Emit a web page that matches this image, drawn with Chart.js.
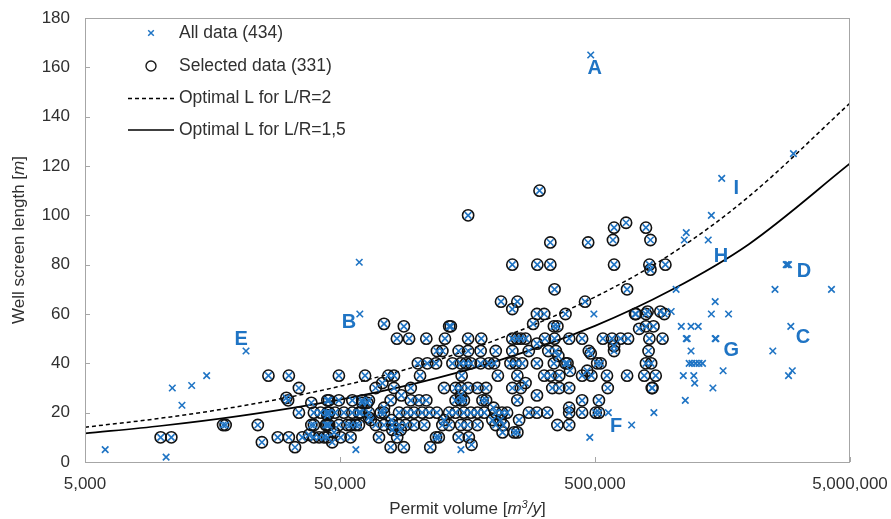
<!DOCTYPE html>
<html>
<head>
<meta charset="utf-8">
<script src="https://cdn.jsdelivr.net/npm/chart.js@4/dist/chart.umd.min.js"></script>
<style>
  html, body { margin: 0; padding: 0; background: #ffffff; }
  #wrap { width: 891px; height: 519px; }
</style>
</head>
<body>
<div id="wrap"><canvas id="c" width="891" height="519"></canvas></div>
<script>
// ---------------- DATA ----------------
// Axis ticks
const xTicks = [5000, 50000, 500000, 5000000];
const yTicks = [0, 20, 40, 60, 80, 100, 120, 140, 160, 180];

// Selected data (331): [permit volume m3/y, well screen length m]
const selectedPoints = [
  [33300,6],[79000,6],[89000,6],[113000,6],[164000,7],[24700,8],[46600,8],
  [9900,10],[10900,10],[28500,10],[31500,10],[35600,10],[39500,10],[41400,10],[43300,10],[44600,10],
  [50300,10],[55000,10],[71100,10],[83800,10],[119000,10],[122000,10],[146000,10],[160000,10],
  [37800,11],[47400,12],[217000,12],[241000,12],[248000,12],[80200,13],[86500,13],
  [17400,15],[17800,15],[23800,15],[38600,15],[39500,15],[44000,15],[44600,15],[45300,15],[49500,15],
  [53400,15],[55000,15],[57600,15],[59300,15],[69000,15],[74400,15],[80200,15],[85200,15],[90500,15],
  [97600,15],[107000,15],[126000,15],[134000,15],[149000,15],[158000,15],[173000,15],[204000,15],
  [219000,15],[356000,15],[396000,15],
  [66000,17],[79700,17],[128000,17],[198000,17],[213000,17],[252000,17],[64900,18],[44600,19],
  [34500,20],[39500,20],[42000,20],[44600,20],[45300,20],[47800,20],[51800,20],[55900,20],[59300,20],
  [60300,20],[64900,20],[72200,20],[74400,20],[85200,20],[91800,20],[97600,20],[105000,20],[112000,20],
  [120000,20],[134000,20],[142000,20],[153000,20],[163000,20],[173000,20],[184000,20],[204000,20],
  [216000,20],[226000,20],[275000,20],[296000,20],[325000,20],[396000,20],[445000,20],[503000,20],[518000,20],
  [74400,22],[200000,22],[396000,22],[38600,24],[61100,24],[64000,24],
  [31300,25],[44600,25],[45300,25],[49500,25],[55900,25],[61100,25],[64900,25],[79000,25],[94700,25],
  [102000,25],[109000,25],[142000,25],[149000,25],[153000,25],[181000,25],[187000,25],[248000,25],
  [445000,25],[518000,25],
  [30800,26],[87000,27],[149000,27],[296000,27],
  [34500,30],[69000,30],[81400,30],[94700,30],[128000,30],[142000,30],[149000,30],[159000,30],[173000,30],
  [187000,30],[237000,30],[256000,30],[340000,30],[362000,30],[396000,30],[561000,30],[835000,30],[840000,30],
  [73300,32],[267000,32],
  [26200,35],[31500,35],[49500,35],[62700,35],[77300,35],[81400,35],[103000,35],[150000,35],[208000,35],
  [248000,35],[316000,35],[335000,35],[362000,35],[445000,35],[484000,35],[557000,35],[668000,35],
  [780000,35],[865000,35],
  [399000,37],[466000,37],
  [101000,40],[110000,40],[119000,40],[138000,40],[149000,40],[156000,40],[163000,40],[178000,40],
  [192000,40],[201000,40],[233000,40],[244000,40],[259000,40],[296000,40],[345000,40],[383000,40],
  [390000,40],[510000,40],[526000,40],[792000,40],[830000,40],
  [359000,43],[481000,44],
  [120000,45],[126000,45],[146000,45],[159000,45],[178000,45],[204000,45],[237000,45],[275000,45],
  [328000,45],[351000,45],[473000,45],[594000,45],[811000,45],
  [594000,47],[296000,48],
  [83600,50],[93300,50],[109000,50],[129000,50],[159000,50],[179000,50],[237000,50],[247000,50],
  [256000,50],[267000,50],[318000,50],[347000,50],[396000,50],[445000,50],[537000,50],[583000,50],
  [630000,50],[674000,50],[817000,50],[920000,50],
  [745000,54],[89000,55],[134000,55],[136000,55],[345000,55],[356000,55],[792000,55],[848000,55],
  [74400,56],[286000,56],
  [296000,60],[316000,60],[383000,60],[718000,60],[724000,60],[792000,60],[935000,60],
  [804000,61],[902000,61],[237000,62],
  [214000,65],[248000,65],[457000,65],
  [347000,70],[668000,70],[825000,78],
  [237000,80],[297000,80],[334000,80],[594000,80],[817000,80],[944000,80],
  [334000,89],[470000,89],[588000,90],[825000,90],[594000,95],[792000,95],[662000,97],
  [159000,100],[303000,110]
];

// Remaining points of "All data (434)" that were not selected
const otherPoints = [
  [6000,5],[10400,2],[11000,30],[12000,23],[13100,31],[15000,35],[21400,45],
  [57700,5],[59800,60],[59500,81],[149000,5],[477000,10],[495000,60],[481000,165],
  [564000,20],[851000,20],[696000,15],
  [3000000,125],[1570000,115],[1430000,100],[1140000,93],[1120000,90],[1390000,90],
  [2810000,80],[2840000,80],[2870000,80],[2540000,70],[4230000,70],[1040000,70],[995000,61],
  [1480000,65],[1430000,60],[1670000,60],[1090000,55],[1190000,55],[1270000,55],[2930000,55],
  [1140000,50],[1150000,50],[1480000,50],[1490000,50],[1190000,45],[2490000,45],
  [1170000,40],[1200000,40],[1240000,40],[1280000,40],[1320000,40],
  [1590000,37],[2970000,37],[2870000,35],[1110000,35],[1220000,35],[1230000,32],
  [1450000,30],[1130000,25]
];

// Optimal screen length curves
const curveVolume  = [5000, 10000, 20000, 50000, 100000, 200000, 500000, 1000000, 2000000, 5000000];
const optimalLR2   = [14.1, 17.8, 22.5, 30.7, 38.8, 49.1, 66.9, 84.5, 107.5, 145.5];
const optimalLR15  = [11.6, 14.7, 18.6, 25.3, 32.0, 40.5, 55.2, 69.8, 88.2, 121.0];

// Case labels A–I placed at [volume, length]
const labelNames  = ['A', 'B', 'C', 'D', 'E', 'F', 'G', 'H', 'I'];
const labelVolume = [499000, 54200, 3270000, 3300000, 20500, 605000, 1710000, 1560000, 1790000];
const labelLength = [159.6, 56.5, 50.3, 77.4, 49.5, 14.2, 45.2, 83.5, 111];

// Legend texts
const legendTexts = ['All data (434)', 'Selected data (331)', 'Optimal L for L/R=2', 'Optimal L for L/R=1,5'];

// ---------------- STYLE ----------------
const BLUE = '#1f74c4';
const TEXT = '#303030';
const FONT = '"Liberation Sans", Arial, sans-serif';

const toXY = arr => arr.map(p => ({ x: p[0], y: p[1] }));
const allPoints = selectedPoints.concat(otherPoints);

function drawCross(ctx, x, y, r) {
  ctx.beginPath();
  ctx.moveTo(x - r, y - r); ctx.lineTo(x + r, y + r);
  ctx.moveTo(x - r, y + r); ctx.lineTo(x + r, y - r);
  ctx.stroke();
}

const overlay = {
  id: 'overlay',
  afterDraw(chart) {
    const { ctx, chartArea: a, scales } = chart;
    const xs = scales.x, ys = scales.y;
    ctx.save();

    // frame
    ctx.strokeStyle = '#a6a6a6';
    ctx.lineWidth = 1;
    ctx.setLineDash([]);
    ctx.strokeRect(Math.round(a.left) + 0.5, Math.round(a.top) + 0.5,
                   Math.round(a.right - a.left) - 1, Math.round(a.bottom - a.top));
    // inner tick marks
    ctx.beginPath();
    yTicks.forEach(v => {
      const py = Math.round(ys.getPixelForValue(v)) + 0.5;
      ctx.moveTo(a.left, py); ctx.lineTo(a.left + 5, py);
    });
    xTicks.forEach(v => {
      const px = Math.round(xs.getPixelForValue(v)) + 0.5;
      ctx.moveTo(px, a.bottom); ctx.lineTo(px, a.bottom - 5);
    });
    ctx.stroke();

    // case labels
    ctx.fillStyle = BLUE;
    ctx.font = 'bold 20px ' + FONT;
    ctx.textAlign = 'center';
    ctx.textBaseline = 'middle';
    labelNames.forEach((t, i) => {
      ctx.fillText(t, xs.getPixelForValue(labelVolume[i]), ys.getPixelForValue(labelLength[i]));
    });

    // axis titles (with italic units)
    ctx.fillStyle = TEXT;
    ctx.textBaseline = 'alphabetic';
    ctx.textAlign = 'left';
    const normal = '17px ' + FONT, italic = 'italic 17px ' + FONT, sup = 'italic 11px ' + FONT;
    const xSegs = [['Permit volume [', normal, 0], ['m', italic, 0], ['3', sup, -6], ['/y', italic, 0], [']', normal, 0]];
    let total = 0;
    xSegs.forEach(s => { ctx.font = s[1]; total += ctx.measureText(s[0]).width; });
    let cx = (a.left + a.right) / 2 - total / 2;
    const by = 514;
    xSegs.forEach(s => { ctx.font = s[1]; ctx.fillText(s[0], cx, by + s[2]); cx += ctx.measureText(s[0]).width; });

    const ySegs = [['Well screen length [', normal], ['m', italic], [']', normal]];
    total = 0;
    ySegs.forEach(s => { ctx.font = s[1]; total += ctx.measureText(s[0]).width; });
    ctx.save();
    ctx.translate(24, (a.top + a.bottom) / 2);
    ctx.rotate(-Math.PI / 2);
    cx = -total / 2;
    ySegs.forEach(s => { ctx.font = s[1]; ctx.fillText(s[0], cx, 0); cx += ctx.measureText(s[0]).width; });
    ctx.restore();

    // legend
    const lx = 151, tx = 179, ly = [33, 66, 98.5, 130];
    ctx.font = '17.5px ' + FONT;
    ctx.textBaseline = 'middle';
    ctx.fillStyle = TEXT;
    legendTexts.forEach((t, i) => ctx.fillText(t, tx, ly[i]));
    ctx.strokeStyle = BLUE; ctx.lineWidth = 1.5;
    drawCross(ctx, lx, ly[0], 2.8);
    ctx.strokeStyle = '#1a1a1a'; ctx.lineWidth = 1.4;
    ctx.beginPath(); ctx.arc(lx, ly[1], 5, 0, Math.PI * 2); ctx.stroke();
    ctx.strokeStyle = '#000'; ctx.lineWidth = 1.5;
    ctx.setLineDash([4, 3]);
    ctx.beginPath(); ctx.moveTo(128, ly[2]); ctx.lineTo(174, ly[2]); ctx.stroke();
    ctx.setLineDash([]);
    ctx.lineWidth = 1.7;
    ctx.beginPath(); ctx.moveTo(128, ly[3]); ctx.lineTo(174, ly[3]); ctx.stroke();

    ctx.restore();
  }
};

new Chart(document.getElementById('c'), {
  type: 'scatter',
  data: {
    datasets: [
      {
        label: legendTexts[0], data: toXY(allPoints), order: 1,
        pointStyle: 'crossRot', pointRadius: 4.6, pointBorderWidth: 1.6,
        borderColor: BLUE, backgroundColor: BLUE
      },
      {
        label: legendTexts[1], data: toXY(selectedPoints), order: 2,
        pointStyle: 'circle', pointRadius: 5.6, pointBorderWidth: 1.6,
        borderColor: '#111111', backgroundColor: 'rgba(0,0,0,0)'
      },
      {
        label: legendTexts[2], data: curveVolume.map((v, i) => ({ x: v, y: optimalLR2[i] })), order: 3,
        showLine: true, pointRadius: 0, borderColor: '#000', borderWidth: 1.5, borderDash: [4, 3],
        cubicInterpolationMode: 'monotone', fill: false
      },
      {
        label: legendTexts[3], data: curveVolume.map((v, i) => ({ x: v, y: optimalLR15[i] })), order: 3,
        showLine: true, pointRadius: 0, borderColor: '#000', borderWidth: 1.7,
        cubicInterpolationMode: 'monotone', fill: false
      }
    ]
  },
  options: {
    responsive: false,
    animation: false,
    devicePixelRatio: 1,
    layout: { padding: { left: 0, right: 41, top: 18, bottom: 0 } },
    plugins: { legend: { display: false }, tooltip: { enabled: false } },
    scales: {
      x: {
        type: 'logarithmic', min: 5000, max: 5000000,
        afterBuildTicks: s => { s.ticks = xTicks.map(v => ({ value: v })); },
        afterFit: s => { s.height = 57; s.paddingLeft = 0; s.paddingRight = 0; },
        grid: { display: false, drawTicks: false },
        border: { display: false },
        ticks: {
          autoSkip: false, maxRotation: 0, padding: 12, color: TEXT,
          font: { family: FONT, size: 17 },
          callback: v => Number(v).toLocaleString('en-US')
        }
      },
      y: {
        min: 0, max: 180,
        afterBuildTicks: s => { s.ticks = yTicks.map(v => ({ value: v })); },
        afterFit: s => { s.width = 85; s.paddingTop = 0; s.paddingBottom = 0; },
        grid: { display: false, drawTicks: false },
        border: { display: false },
        ticks: { padding: 15, color: TEXT, font: { family: FONT, size: 17 } }
      }
    }
  },
  plugins: [overlay]
});
</script>
</body>
</html>
